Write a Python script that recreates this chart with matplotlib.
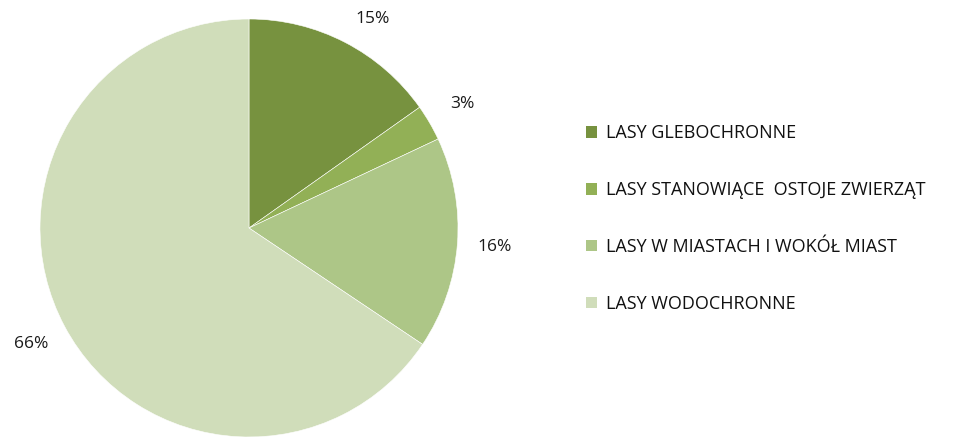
#!/usr/bin/env python3
"""Pie chart of forest categories (shares of protective forests)."""

import matplotlib

matplotlib.use("Agg")
import matplotlib.pyplot as plt
from matplotlib.patches import Patch

categories = [
    "LASY GLEBOCHRONNE",
    "LASY STANOWIĄCE  OSTOJE ZWIERZĄT",
    "LASY W MIASTACH I WOKÓŁ MIAST",
    "LASY WODOCHRONNE",
]
shares = [15.2, 2.8, 16.4, 65.6]
pct_labels = ["15%", "3%", "16%", "66%"]
colors = ["#77923F", "#92B056", "#ADC687", "#D0DDBA"]

plt.rcParams["font.family"] = ["Open Sans", "DejaVu Sans"]

fig = plt.figure(figsize=(9.54, 4.37), dpi=100)
ax = fig.add_axes([40 / 954, 0.0, 418 / 954, 418 / 437])

wedges, texts = ax.pie(
    shares,
    labels=pct_labels,
    colors=colors,
    startangle=90,
    counterclock=False,
    labeldistance=1.18,
    wedgeprops={"edgecolor": "white", "linewidth": 0.4},
    textprops={"fontsize": 12.5, "color": "#1a1a1a"},
)
for t in texts:
    t.set_horizontalalignment("center")
    t.set_verticalalignment("center")
# the top label sits a bit lower and to the right, like the spreadsheet placed it
x0, y0 = texts[0].get_position()
texts[0].set_position((x0 + 0.05, y0 - 0.05))
ax.set_xlim(-1, 1)
ax.set_ylim(-1, 1)
ax.set_aspect("equal")

handles = [Patch(facecolor=c, edgecolor="none") for c in colors]
leg = fig.legend(
    handles,
    categories,
    loc="upper left",
    bbox_to_anchor=(572 / 954, 1 - 110 / 437),
    frameon=False,
    fontsize=13,
    handlelength=0.6,
    handleheight=0.6,
    handletextpad=0.5,
    labelspacing=2.15,
    borderpad=0.3,
)
for t in leg.get_texts():
    t.set_color("#111111")

fig.savefig("out.png", dpi=100)
plt.close(fig)
